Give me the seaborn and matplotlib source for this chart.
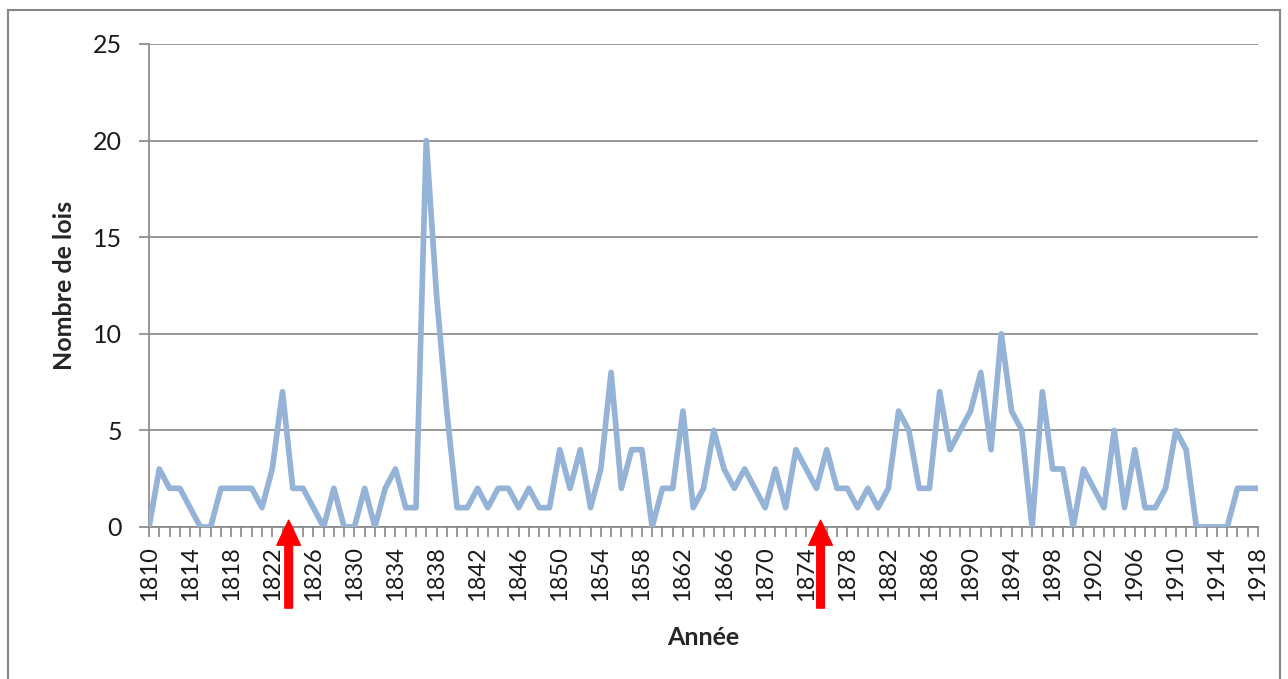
import numpy as np
import pandas as pd
import seaborn as sns
import matplotlib.pyplot as plt
from matplotlib.patches import Rectangle
from matplotlib.ticker import MultipleLocator

# nombre de lois par année (1810-1918)
years = list(range(1810, 1919))
lois = [0, 3, 2, 2, 1, 0, 0, 2, 2, 2,   # 1810-1819
        2, 1, 3, 7, 2, 2, 1, 0, 2, 0,   # 1820-1829
        0, 2, 0, 2, 3, 1, 1, 20, 12, 6, # 1830-1839
        1, 1, 2, 1, 2, 2, 1, 2, 1, 1,   # 1840-1849
        4, 2, 4, 1, 3, 8, 2, 4, 4, 0,   # 1850-1859
        2, 2, 6, 1, 2, 5, 3, 2, 3, 2,   # 1860-1869
        1, 3, 1, 4, 3, 2, 4, 2, 2, 1,   # 1870-1879
        2, 1, 2, 6, 5, 2, 2, 7, 4, 5,   # 1880-1889
        6, 8, 4, 10, 6, 5, 0, 7, 3, 3,  # 1890-1899
        0, 3, 2, 1, 5, 1, 4, 1, 1, 2,   # 1900-1909
        5, 4, 0, 0, 0, 0, 2, 2, 2]      # 1910-1918
arrow_years = [1823.6, 1875.4]

data = pd.DataFrame({'Année': years, 'Nombre de lois': lois})

sns.set_style('white')
plt.rcParams['font.family'] = ['Lato', 'DejaVu Sans']

fig = plt.figure(figsize=(12.88, 6.79), dpi=100)
ax = fig.add_axes([0.1157, 0.2239, 0.8610, 0.7113])

sns.lineplot(x='Année', y='Nombre de lois', data=data, color='#95b3d7', linewidth=4.1, ax=ax, zorder=3)

ax.set_xlim(1810, 1918)
ax.set_ylim(0, 25)
ax.set_yticks([0, 5, 10, 15, 20, 25])
ax.set_xticks(list(range(1810, 1919, 4)))
ax.xaxis.set_minor_locator(MultipleLocator(1))
ax.grid(axis='y', color='#868686', linewidth=1.2)
ax.set_axisbelow(True)

for s in ['top', 'right']:
    ax.spines[s].set_visible(False)
for s in ['left', 'bottom']:
    ax.spines[s].set_color('#868686')
    ax.spines[s].set_linewidth(1.2)

ax.tick_params(axis='x', which='both', direction='out', color='#868686', length=7, width=1.2,
               labelsize=17, rotation=90, pad=7, bottom=True, labelcolor='#1a1a1a')
ax.tick_params(axis='y', direction='out', color='#868686', length=7.5, width=1.2,
               labelsize=18, pad=12, left=True, labelcolor='#1a1a1a')

ax.set_xlabel('Année', fontsize=18, fontweight='bold', labelpad=18)
ax.set_ylabel('Nombre de lois', fontsize=18, fontweight='bold', labelpad=12)

# flèches rouges
for yr in arrow_years:
    ax.annotate('', xy=(yr, 0.35), xytext=(yr, -4.2), annotation_clip=False,
                arrowprops=dict(facecolor='red', edgecolor='red', width=5.5, headwidth=17, headlength=18),
                zorder=10)

# cadre gris autour du graphique
fig.patches.append(Rectangle((0.0062, -0.02), 0.9876, 1.005, transform=fig.transFigure,
                             fill=False, edgecolor='#868686', linewidth=1.5))

plt.savefig('out.png', dpi=100)
